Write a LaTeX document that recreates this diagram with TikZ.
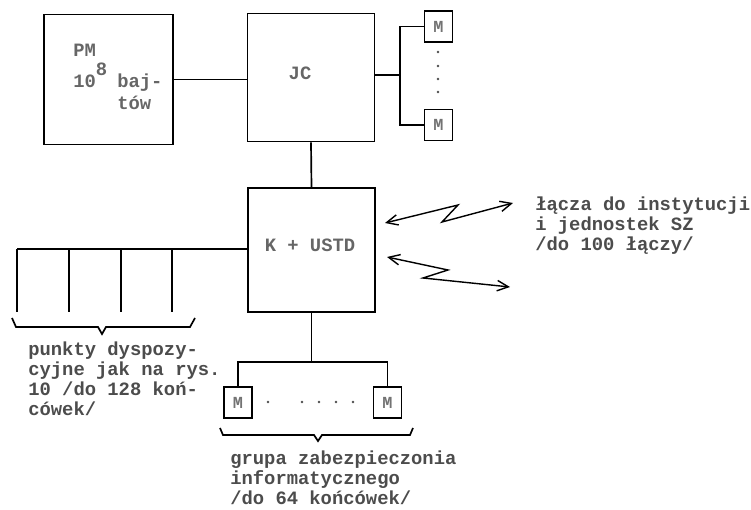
\documentclass[tikz,border=0pt]{standalone}
\usepackage{fontspec}
\setmonofont{Liberation Mono}
\usetikzlibrary{arrows.meta}

\tikzset{
  blok/.style={draw, line width=1.3pt, inner sep=0pt},
  modem/.style={draw, line width=1.2pt, minimum width=0.7cm, minimum height=0.775cm, inner sep=0pt,
    font=\ttfamily\bfseries\fontsize{12}{12}\selectfont, text=black!55},
  opis/.style={inner sep=0pt, anchor=north west, align=left, text=black!70,
    font=\ttfamily\bfseries\fontsize{13.4}{14.2}\selectfont},
  napis/.style={inner sep=0pt, anchor=base west, text=black!60,
    font=\ttfamily\bfseries\fontsize{13.4}{14.2}\selectfont},
  lacze/.style={line width=1pt, {Straight Barb[length=2.8mm,width=2.6mm]}-{Straight Barb[length=2.8mm,width=2.6mm]}},
  szyna/.style={line width=1.2pt}
}

\begin{document}
\begin{tikzpicture}[x=0.025cm, y=-0.025cm]
    \useasboundingbox (0,0) rectangle (751,510);

    % main blocks
    \node[blok, minimum width=3.225cm, minimum height=3.25cm] (pm) at (108.5,79.5) {};
    \node[blok, minimum width=3.175cm, minimum height=3.2cm] (jc) at (311,77.5) {};
    \node[blok, minimum width=3.175cm, minimum height=3.1cm] (kusd) at (311.5,250) {};

    % block labels
    \node[napis] (pmnazwa) at (73,57) {PM};
    \node[napis] (pmpot) at (73,88) {10\raisebox{9pt}{8}};
    \node[napis] (pmbaj) at (117,88) {baj-};
    \node[napis] (pmtow) at (117,110) {tów};
    \node[napis, anchor=base] (jcnazwa) at (300,80) {JC};
    \node[napis, anchor=base] (kusdnazwa) at (310,252) {K + USTD};

    % modems
    \node[modem] (mg) at (438.5,26.5) {M};
    \node[modem] (md) at (438.5,125) {M};
    \node[modem] (ml) at (238,402.5) {M};
    \node[modem] (mp) at (387.5,402.5) {M};

    % PM -- JC -- K+USTD
    \draw[szyna] (pm.east) -- (pm.east -| jc.west);
    \draw[szyna] (jc.south) -- (kusd.north);

    % JC -- modems on the right
    \coordinate (rozg) at (400,75);
    \draw[szyna] (jc.east |- rozg) -- (rozg);
    \draw[szyna] (mg.west) -| (rozg) |- (md.west);
    \foreach \y in {52,66,79,92}
        \fill[black!70] (438,\y) circle (0.9pt);

    % dispatch points on the left
    \coordinate (lewy) at (17,249);
    \draw[szyna] (kusd.west |- lewy) -- (lewy);
    \foreach \x in {17,69,121,172}
        \draw[szyna] (\x,249) -- (\x,312);
    \draw[szyna] (12,318) -- (16,327) -- (98,327) -- (102,334) -- (106,327) -- (190,327) -- (195,318);
    \node[opis] (punkty) at (28,342) {punkty dyspozy-\\cyjne jak na rys.\\10 /do 128 koń-\\cówek/};

    % bottom group
    \coordinate (dol) at (311.5,362);
    \draw[szyna] (kusd.south) -- (dol);
    \draw[szyna] (ml.north) |- (dol) -| (mp.north);
    \foreach \x in {268,302,319,336,353}
        \fill[black!70] (\x,402) circle (0.9pt);
    \draw[szyna] (220,428) -- (223,435) -- (314,435) -- (318,441) -- (322,435) -- (410,435) -- (413,428);
    \node[opis] (grupa) at (230,451) {grupa zabezpieczonia\\informatycznego\\/do 64 końcówek/};

    % radio links
    \coordinate (a1) at (385,223);
    \coordinate (a2) at (513,203);
    \draw[lacze] (a1) -- (458,205) -- (442,222) -- (a2);
    \coordinate (b1) at (387,257);
    \coordinate (b2) at (510,287);
    \draw[lacze] (b1) -- (448,270) -- (423,278) -- (b2);
    \node[opis] (lacza) at (535,197) {łącza do instytucji\\i jednostek SZ\\/do 100 łączy/};
\end{tikzpicture}
\end{document}
